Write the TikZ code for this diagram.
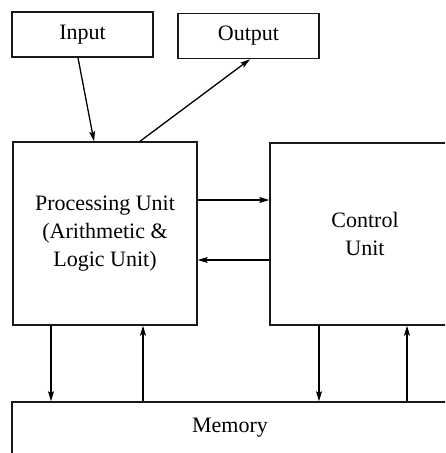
\documentclass[tikz,border=0pt]{standalone}
\usepackage{fontspec}
\setmainfont{Liberation Serif}
\usepackage{tikz}
\usetikzlibrary{arrows.meta,positioning,calc}
\tikzset{
  font={\fontsize{22pt}{28}\selectfont}}

\begin{document}
\begin{tikzpicture}[x=1pt,y=1pt,
    block_io/.style ={rectangle, draw=black!90, line width=1.5pt, fill=white,
      minimum width=141pt, minimum height=45pt, inner sep=0pt},
    block_unit/.style ={rectangle, draw=black!90, line width=1.5pt, fill=white,
      text centered, align=center, inner sep=0pt},
    block_memory/.style ={rectangle, draw=black!90, line width=1.5pt, fill=white,
      minimum width=436pt, minimum height=52pt, inner sep=0pt},
    paths2/.style={black, draw, line width=1.3pt,
      arrows={-Stealth[length=10pt, width=6pt, inset=2pt, black, fill=black]}}]
    \clip (0,0) rectangle (445,-453);
    % top row
    \node[block_io] (input) at (82.5,-34.5) {Input};
    \node[block_io] (output) at (248.5,-36) {Output};
    % units
    \node[block_unit, minimum width=184pt, minimum height=183pt] (pu) at (105,-233.5)
      {Processing Unit\\(Arithmetic \&\\Logic Unit)};
    \node[block_unit, minimum width=190pt, minimum height=182pt] (cu) at (365,-234)
      {Control\\Unit};
    % memory
    \node[block_memory] (memory) at (230,-428) {Memory};
    % connecting nodes with paths
    \begin{scope}[every path/.style=paths2]
      \path([xshift=-4.5pt]input.south)--([xshift=-11pt]pu.north);
      \path([xshift=35pt]pu.north)--([xshift=1.5pt]output.south);
      \path([yshift=33.5pt]pu.east)--([yshift=33.5pt]pu.east -| cu.west);
      \path([yshift=-26.5pt]pu.east -| cu.west)--([yshift=-26.5pt]pu.east);
      \path([xshift=-54pt]pu.south)--([xshift=-54pt]pu.south |- memory.north);
      \path([xshift=38pt]pu.south |- memory.north)--([xshift=38pt]pu.south);
      \path([xshift=-46pt]cu.south)--([xshift=-46pt]cu.south |- memory.north);
      \path([xshift=42pt]cu.south |- memory.north)--([xshift=42pt]cu.south);
    \end{scope}
  \end{tikzpicture}
\end{document}
